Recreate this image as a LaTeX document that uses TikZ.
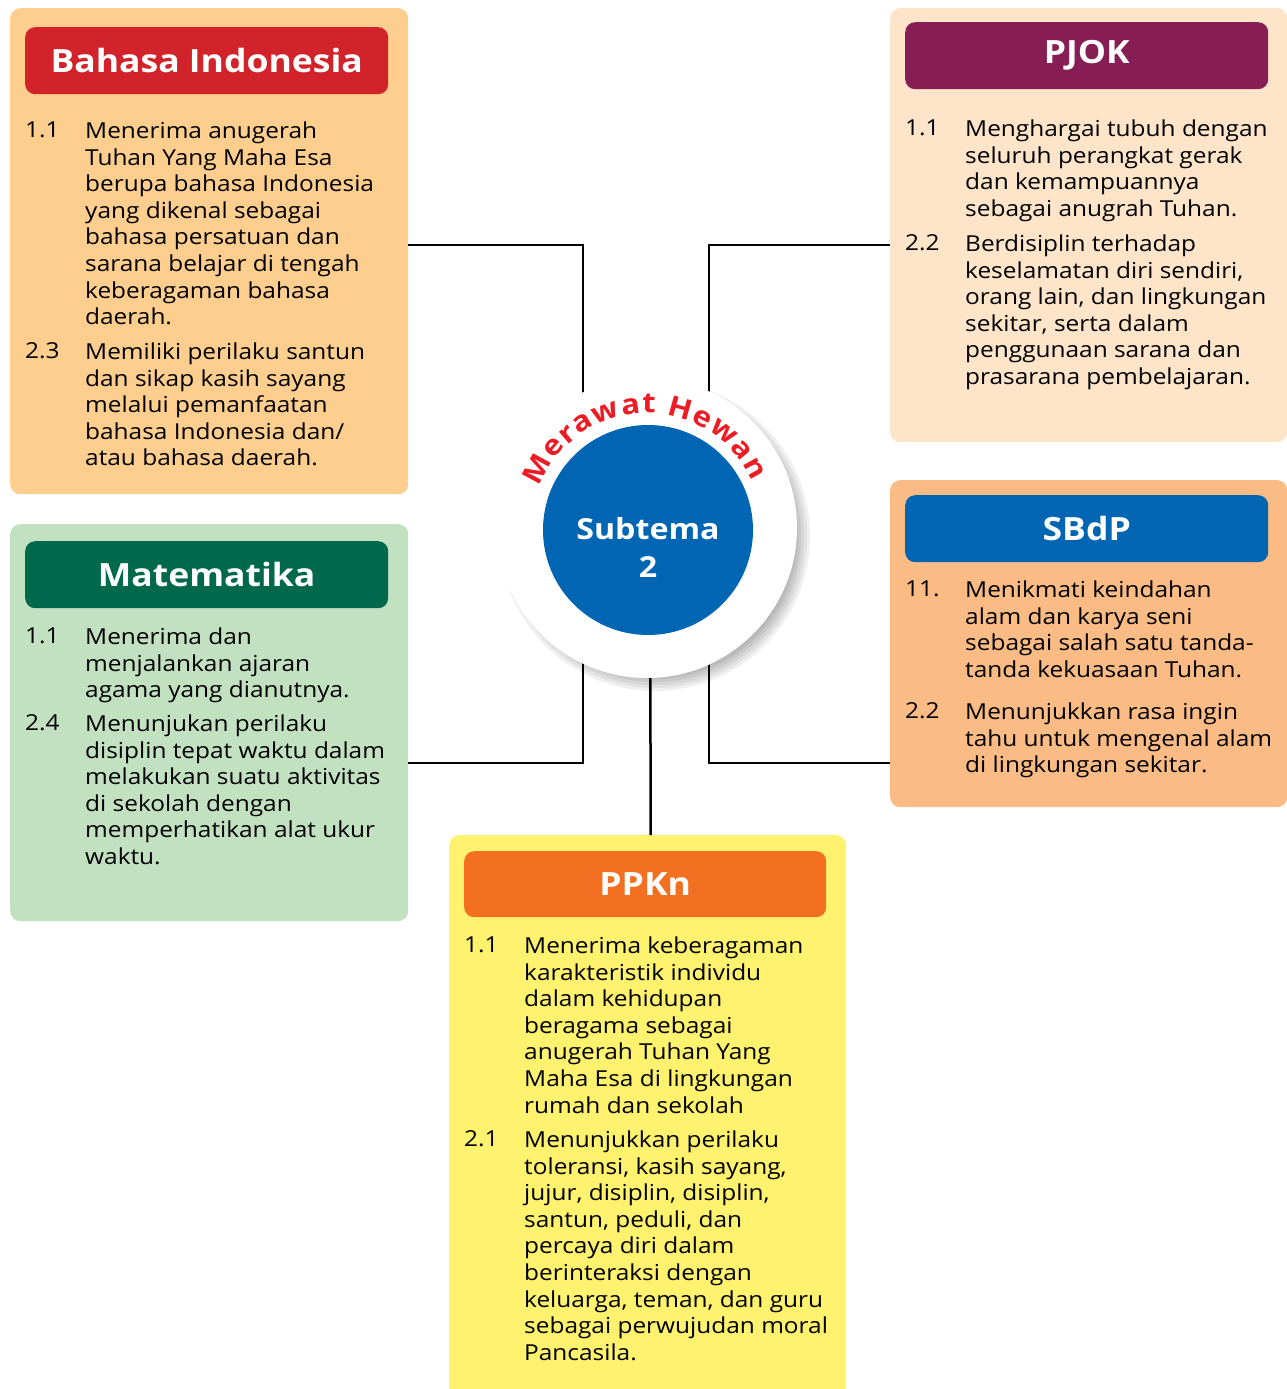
\documentclass[tikz,border=0pt]{standalone}
\usepackage{fontspec}
\setmainfont{Open Sans}[FakeStretch=1.11]
\usepackage{tikz}
\usetikzlibrary{positioning,decorations.text}
\usepackage{xcolor}
\definecolor{bibg}{HTML}{FDCE8D}
\definecolor{bihead}{HTML}{D2232A}
\definecolor{pjokbg}{HTML}{FEE4C9}
\definecolor{pjokhead}{HTML}{861D55}
\definecolor{sbdpbg}{HTML}{FBBB84}
\definecolor{subblue}{HTML}{0066B3}
\definecolor{mtkbg}{HTML}{C2E1C1}
\definecolor{mtkhead}{HTML}{00694B}
\definecolor{ppknbg}{HTML}{FEF26E}
\definecolor{ppknhead}{HTML}{F37022}
\definecolor{hubred}{HTML}{ED1C24}
\newcommand\kdfont{\fontsize{22}{26.6}\selectfont}

\begin{document}
\begin{tikzpicture}[x=1pt,y=1pt,
  panel/.style={rounded corners=10pt,inner sep=0pt,anchor=north west},
  head/.style={rounded corners=10pt,inner sep=0pt,anchor=north west,
    minimum width=363pt,minimum height=67pt,text=white,
    font=\fontsize{32}{38}\selectfont\bfseries},
  num/.style={anchor=north west,inner sep=0pt,font=\kdfont},
  txt/.style={anchor=north west,inner sep=0pt,align=left,font=\kdfont},
  link/.style={line width=2.5pt}]
\useasboundingbox (0,0) rectangle (1287,-1389);

% panels
\node[panel,fill=bibg,minimum width=398pt,minimum height=486pt] (bi) at (10,-8) {};
\node[panel,fill=pjokbg,minimum width=397pt,minimum height=434pt] (pjok) at (890,-8) {};
\node[panel,fill=sbdpbg,minimum width=397pt,minimum height=327pt] (sbdp) at (890,-480) {};
\node[panel,fill=mtkbg,minimum width=398pt,minimum height=397pt] (mtk) at (10,-524) {};
\node[panel,fill=ppknbg,minimum width=397pt,minimum height=570pt] (ppkn) at (449,-835) {};

% headers
\node[head,fill=bihead] (bihd) at (25,-27) {Bahasa Indonesia};
\node[head,fill=pjokhead] (pjokhd) at (905,-22) {PJOK};
\node[head,fill=subblue] (sbdphd) at (905,-495) {SBdP};
\node[head,fill=mtkhead] (mtkhd) at (25,-541) {Matematika};
\node[head,fill=ppknhead,minimum width=362pt,minimum height=66pt] (ppknhd) at (464,-851) {PPKn};

% Bahasa Indonesia
\node[num] (bia) at (25,-121.5) {1.1};
\node[txt] (biat) at (85,-121.5) {Menerima anugerah\\Tuhan Yang Maha Esa\\berupa bahasa Indonesia\\yang dikenal sebagai\\bahasa persatuan dan\\sarana belajar di tengah\\keberagaman bahasa\\daerah.};
\node[num] (bib) at (25,-342.5) {2.3};
\node[txt] (bibt) at (85,-342.5) {Memiliki perilaku santun\\dan sikap kasih sayang\\melalui pemanfaatan\\bahasa Indonesia dan/\\atau bahasa daerah.};

% PJOK
\node[num] (pjoka) at (905,-119.5) {1.1};
\node[txt] (pjokat) at (965,-119.5) {Menghargai tubuh dengan\\seluruh perangkat gerak\\dan kemampuannya\\sebagai anugrah Tuhan.};
\node[num] (pjokb) at (905,-234.5) {2.2};
\node[txt] (pjokbt) at (965,-234.5) {Berdisiplin terhadap\\keselamatan diri sendiri,\\orang lain, dan lingkungan\\sekitar, serta dalam\\penggunaan sarana dan\\prasarana pembelajaran.};

% SBdP
\node[num] (sbdpa) at (905,-580.5) {11.};
\node[txt] (sbdpat) at (965,-580.5) {Menikmati keindahan\\alam dan karya seni\\sebagai salah satu tanda-\\tanda kekuasaan Tuhan.};
\node[num] (sbdpb) at (905,-702.5) {2.2};
\node[txt] (sbdpbt) at (965,-702.5) {Menunjukkan rasa ingin\\tahu untuk mengenal alam\\di lingkungan sekitar.};

% Matematika
\node[num] (mtka) at (25,-627.5) {1.1};
\node[txt] (mtkat) at (85,-627.5) {Menerima dan\\menjalankan ajaran\\agama yang dianutnya.};
\node[num] (mtkb) at (25,-714.5) {2.4};
\node[txt] (mtkbt) at (85,-714.5) {Menunjukan perilaku\\disiplin tepat waktu dalam\\melakukan suatu aktivitas\\di sekolah dengan\\memperhatikan alat ukur\\waktu.};

% PPKn
\node[num] (ppkna) at (464,-936.5) {1.1};
\node[txt] (ppknat) at (524,-936.5) {Menerima keberagaman\\karakteristik individu\\dalam kehidupan\\beragama sebagai\\anugerah Tuhan Yang\\Maha Esa di lingkungan\\rumah dan sekolah};
\node[num] (ppknb) at (464,-1130.5) {2.1};
\node[txt] (ppknbt) at (524,-1130.5) {Menunjukkan perilaku\\toleransi, kasih sayang,\\jujur, disiplin, disiplin,\\santun, peduli, dan\\percaya diri dalam\\berinteraksi dengan\\keluarga, teman, dan guru\\sebagai perwujudan moral\\Pancasila.};

% hub and connectors
\coordinate (hubc) at (647,-528);
\coordinate (jl) at ([xshift=-64]hubc);
\coordinate (jr) at ([xshift=62]hubc);
\draw[link] (bi.east |- 0,-245) -| (jl);
\draw[link] (mtk.east |- 0,-763) -| (jl);
\draw[link] (pjok.west |- 0,-245) -| (jr);
\draw[link] (sbdp.west |- 0,-763) -| (jr);
\draw[link] ([xshift=3]ppkn.north) -- ([xshift=3]hubc);

\foreach \r in {140,143,...,155}
  \fill[black,opacity=0.06] ([shift={(8,-8)}]hubc) circle (\r);
\node[circle,fill=white,minimum size=300pt,inner sep=0pt] (hub) at (hubc) {};
\node[circle,fill=subblue,minimum size=210pt,inner sep=0pt] (sub) at ([shift={(1,-2)}]hub.center) {};
\node[text=white,align=center,font=\fontsize{29}{38}\selectfont\bfseries]
  (subtxt) at ([yshift=-17]sub.center) {Subtema\\2};
\path[decorate,decoration={text along path,text align=fit to path,
  text={|\fontsize{28}{28}\selectfont\bfseries\color{hubred}|Merawat Hewan}}]
  ([shift={(159:115)}]hub.center) arc[start angle=159,end angle=24,radius=115];
\end{tikzpicture}
\end{document}
